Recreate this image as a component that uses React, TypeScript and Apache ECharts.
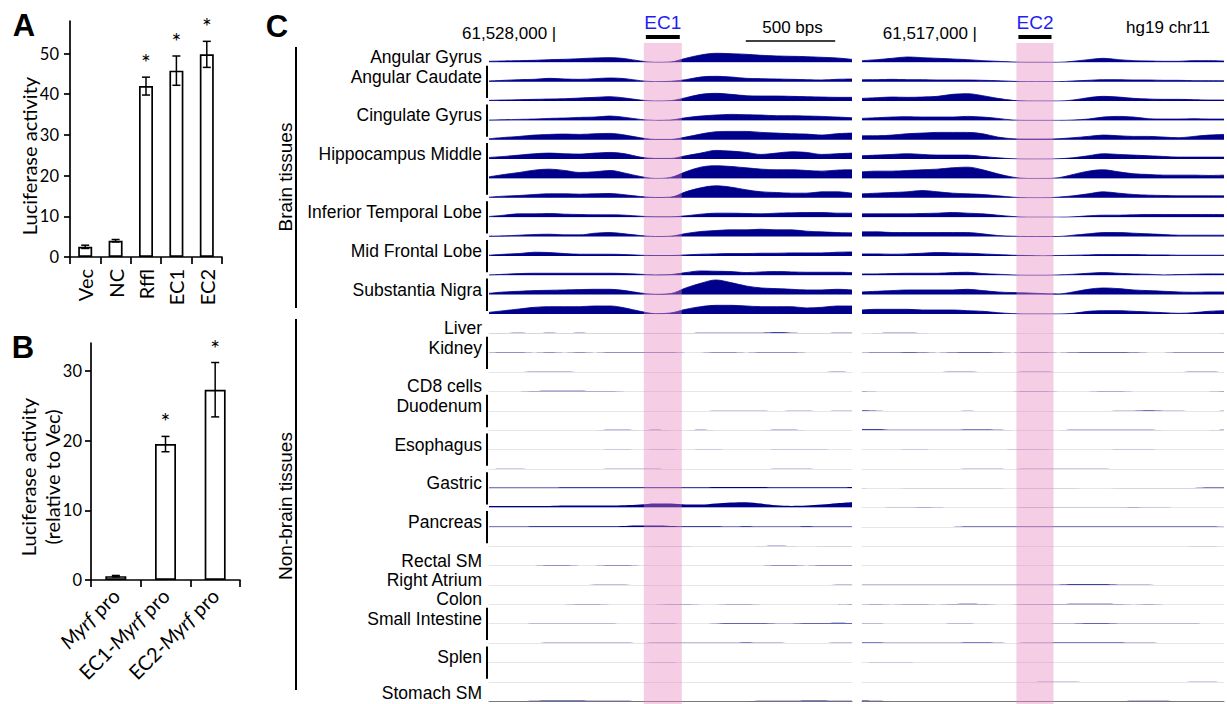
import React, { useEffect, useRef } from 'react';
import * as echarts from 'echarts';

// ---------------- Panel A ----------------
const A_CATS = ['Vec', 'NC', 'Rffl', 'EC1', 'EC2'];
const A_MEAN = [2.5, 4.0, 42.0, 45.8, 49.8];
const A_ERR = [0.4, 0.3, 2.2, 3.6, 3.2];
const A_SIG = [0, 0, 1, 1, 1];
const A_TICKS = [0, 10, 20, 30, 40, 50];
const A_MAX = 58;

// ---------------- Panel B ----------------
const B_CATS = ['Myrf pro', 'EC1-Myrf pro', 'EC2-Myrf pro'];
const B_MEAN = [0.55, 19.5, 27.3];
const B_ERR = [0.1, 1.1, 3.9];
const B_SIG = [0, 1, 1];
const B_TICKS = [0, 10, 20, 30];
const B_MAX = 34;

// ---------------- Panel C ----------------
const WINDOW_BP = 2030;
const POS = [0, 85, 169, 254, 338, 423, 507, 592, 677, 761, 846, 930, 1015, 1100, 1184, 1269, 1353, 1438, 1523, 1607, 1692, 1776, 1861, 1945, 2030];
const EC_NAMES = ['EC1', 'EC2'];
const EC_REGIONS = [[866, 1078], [866, 1074]];
const COORD_LABELS = ['61,528,000 |', '61,517,000 |'];
const COORD_POS = [376, 645];
const SCALE_BAR = [1436, 1936];
const SCALE_LABEL = '500 bps';
const ASSEMBLY = 'hg19 chr11';
const SIGNAL_MAX = 57;

const BRAIN_GROUPS: [string, number][] = [
  ['Angular Gyrus', 1], ['Angular Caudate', 2], ['Cingulate Gyrus', 2], ['Hippocampus Middle', 3],
  ['Inferior Temporal Lobe', 2], ['Mid Frontal Lobe', 2], ['Substantia Nigra', 2],
];
const NONBRAIN_GROUPS: [string, number][] = [
  ['Liver', 1], ['Kidney', 2], ['CD8 cells', 1], ['Duodenum', 2], ['Esophagus', 2], ['Gastric', 2],
  ['Pancreas', 2], ['Rectal SM', 1], ['Right Atrium', 1], ['Colon', 1], ['Small Intestine', 2],
  ['Splen', 2], ['Stomach SM', 1],
];

// brain tracks, left window (EC1)
const BRAIN_L = [
  [3, 4, 5, 6, 8, 9, 11, 13, 14, 11, 4, 0, 1, 12, 22, 27, 26, 24, 21, 19, 18, 17, 15, 13, 9],
  [2, 4, 6, 7, 10, 8, 7, 9, 11, 9, 3, 0, 1, 6, 14, 16, 14, 10, 9, 8, 7, 6, 5, 7, 8],
  [2, 3, 4, 5, 6, 7, 9, 11, 13, 9, 3, 0, 1, 10, 20, 23, 20, 16, 15, 15, 14, 13, 12, 11, 11],
  [1, 2, 3, 4, 6, 7, 9, 10, 13, 9, 3, 0, 1, 8, 13, 16, 18, 17, 16, 14, 14, 13, 12, 10, 8],
  [3, 7, 10, 14, 16, 17, 16, 18, 19, 14, 6, 1, 1, 8, 17, 24, 25, 25, 22, 20, 18, 17, 14, 18, 20],
  [5, 8, 12, 16, 18, 16, 15, 18, 20, 16, 6, 2, 2, 10, 18, 26, 24, 20, 14, 18, 22, 20, 14, 16, 18],
  [5, 12, 18, 25, 28, 24, 18, 20, 24, 16, 6, 0, 3, 20, 34, 38, 36, 32, 28, 26, 26, 24, 22, 25, 26],
  [2, 5, 7, 10, 12, 12, 11, 12, 13, 9, 4, 1, 2, 18, 30, 36, 32, 24, 18, 16, 14, 14, 18, 18, 14],
  [2, 6, 10, 10, 11, 9, 8, 7, 7, 6, 3, 1, 1, 4, 9, 12, 12, 11, 10, 12, 13, 14, 14, 12, 12],
  [1, 2, 4, 6, 7, 5, 5, 10, 12, 8, 3, 0, 1, 9, 15, 18, 20, 20, 22, 20, 20, 16, 14, 12, 11],
  [2, 5, 7, 11, 10, 7, 5, 5, 5, 4, 2, 1, 1, 3, 5, 6, 7, 7, 8, 8, 9, 9, 9, 11, 12],
  [1, 3, 5, 6, 6, 6, 6, 6, 6, 5, 3, 1, 2, 8, 13, 12, 11, 8, 10, 11, 10, 9, 9, 9, 8],
  [4, 8, 10, 12, 13, 14, 15, 16, 16, 12, 5, 1, 3, 20, 34, 44, 36, 26, 20, 18, 16, 14, 14, 16, 14],
  [5, 10, 15, 20, 22, 22, 22, 24, 24, 18, 8, 1, 3, 14, 22, 26, 26, 24, 22, 22, 22, 18, 20, 24, 24],
];

// brain tracks, right window (EC2)
const BRAIN_R = [
  [5, 8, 12, 16, 14, 12, 10, 8, 5, 3, 1, 0, 0, 0, 3, 8, 12, 8, 5, 4, 3, 3, 5, 5, 4],
  [6, 6, 7, 6, 6, 5, 5, 5, 4, 3, 1, 0, 0, 0, 2, 4, 6, 6, 5, 5, 4, 4, 3, 3, 3],
  [8, 10, 12, 11, 12, 14, 20, 22, 16, 8, 2, 0, 0, 0, 3, 10, 14, 12, 8, 6, 5, 5, 4, 3, 3],
  [6, 8, 10, 11, 10, 10, 10, 12, 10, 6, 1, 0, 0, 0, 1, 4, 10, 12, 10, 5, 4, 4, 5, 4, 4],
  [12, 12, 14, 18, 20, 22, 22, 22, 18, 8, 3, 2, 2, 3, 6, 10, 14, 12, 10, 10, 8, 6, 10, 14, 16],
  [10, 12, 14, 16, 14, 12, 12, 12, 8, 4, 1, 0, 0, 1, 4, 10, 16, 14, 12, 10, 8, 6, 6, 6, 6],
  [20, 22, 22, 24, 26, 28, 32, 34, 26, 14, 4, 0, 0, 2, 12, 22, 26, 20, 14, 12, 10, 10, 10, 9, 10],
  [12, 14, 16, 18, 22, 18, 14, 12, 10, 6, 2, 0, 0, 2, 6, 12, 18, 14, 10, 8, 7, 6, 6, 6, 6],
  [10, 10, 10, 10, 11, 12, 14, 12, 10, 6, 2, 0, 0, 0, 1, 4, 6, 6, 7, 8, 8, 8, 8, 8, 8],
  [14, 14, 12, 12, 12, 12, 12, 12, 8, 3, 1, 0, 0, 0, 4, 8, 12, 12, 10, 8, 6, 4, 4, 4, 4],
  [6, 6, 5, 6, 8, 10, 9, 8, 6, 4, 2, 1, 0, 1, 2, 3, 4, 4, 4, 3, 3, 2, 2, 2, 2],
  [4, 4, 5, 6, 6, 6, 8, 9, 5, 3, 1, 0, 0, 1, 3, 6, 8, 6, 4, 3, 1, 2, 3, 4, 4],
  [8, 10, 12, 14, 14, 14, 14, 16, 12, 8, 6, 5, 3, 2, 8, 16, 20, 18, 14, 12, 10, 8, 7, 8, 8],
  [12, 14, 14, 14, 12, 12, 12, 10, 8, 4, 1, 0, 0, 0, 2, 8, 10, 10, 8, 6, 4, 2, 4, 8, 10],
];

// non-brain tracks, left window (EC1)
const NONBRAIN_L = [
  [1, 1, 2, 1, 2, 1, 2, 1, 1, 1, 1, 1, 1, 1, 2, 2, 2, 2, 2, 3, 2, 1, 1, 2, 2],
  [0, 1, 1, 0, 1, 0, 1, 0, 1, 1, 1, 1, 1, 0, 0, 1, 1, 0, 1, 1, 1, 0, 0, 0, 0],
  [0, 0, 0, 1, 1, 1, 0, 0, 0, 0, 0, 0, 0, 0, 0, 0, 0, 0, 0, 0, 0, 0, 0, 1, 0],
  [0, 0, 0, 1, 2, 2, 2, 1, 1, 0, 0, 0, 0, 0, 0, 0, 0, 0, 0, 0, 0, 0, 0, 0, 0],
  [0, 0, 0, 0, 0, 0, 0, 0, 0, 0, 0, 0, 0, 0, 0, 1, 1, 1, 1, 0, 1, 1, 0, 1, 1],
  [0, 0, 0, 0, 0, 0, 0, 0, 1, 1, 0, 1, 0, 0, 1, 0, 0, 0, 0, 1, 1, 0, 0, 0, 0],
  [0, 0, 0, 0, 0, 0, 0, 0, 1, 1, 0, 1, 1, 0, 1, 1, 0, 0, 0, 1, 1, 1, 1, 0, 0],
  [0, 1, 1, 0, 0, 0, 0, 0, 1, 1, 1, 1, 0, 0, 0, 0, 0, 0, 0, 1, 1, 1, 0, 0, 0],
  [2, 2, 2, 2, 2, 3, 3, 3, 3, 3, 3, 3, 3, 3, 3, 4, 4, 4, 4, 3, 3, 3, 3, 3, 4],
  [5, 5, 5, 5, 5, 6, 6, 6, 6, 7, 9, 12, 12, 9, 9, 12, 15, 16, 12, 7, 5, 6, 9, 13, 16],
  [1, 1, 1, 2, 2, 2, 2, 2, 2, 3, 4, 4, 3, 2, 2, 2, 1, 2, 1, 1, 1, 2, 1, 1, 1],
  [0, 0, 0, 0, 0, 0, 0, 0, 0, 0, 0, 1, 1, 1, 0, 0, 0, 0, 1, 2, 1, 0, 1, 1, 1],
  [0, 0, 0, 0, 1, 1, 0, 0, 1, 1, 0, 0, 0, 0, 0, 0, 0, 0, 0, 1, 1, 0, 1, 1, 1],
  [0, 0, 0, 0, 0, 0, 0, 1, 1, 1, 0, 0, 0, 0, 0, 0, 0, 0, 0, 0, 0, 0, 0, 1, 1],
  [0, 0, 0, 0, 0, 0, 1, 1, 0, 0, 0, 0, 1, 1, 0, 0, 1, 1, 0, 0, 0, 0, 0, 0, 1],
  [0, 0, 0, 1, 1, 1, 1, 1, 1, 0, 0, 1, 1, 0, 0, 1, 2, 2, 2, 1, 1, 2, 2, 3, 2],
  [0, 0, 0, 0, 1, 1, 1, 1, 1, 1, 0, 1, 1, 1, 1, 1, 1, 2, 1, 1, 0, 0, 0, 1, 1],
  [0, 0, 0, 0, 0, 0, 0, 0, 0, 0, 0, 1, 1, 0, 0, 0, 0, 0, 0, 0, 0, 0, 0, 0, 0],
  [0, 0, 0, 0, 0, 0, 0, 0, 0, 0, 0, 0, 0, 0, 0, 0, 0, 0, 0, 0, 0, 0, 0, 0, 0],
  [0, 0, 0, 1, 2, 2, 2, 1, 1, 1, 0, 0, 0, 0, 0, 0, 0, 0, 1, 1, 1, 2, 2, 1, 1],
];

// non-brain tracks, right window (EC2)
const NONBRAIN_R = [
  [0, 1, 2, 2, 1, 0, 0, 0, 0, 0, 0, 0, 0, 0, 0, 0, 0, 0, 0, 0, 0, 0, 0, 0, 1],
  [0, 1, 1, 2, 1, 0, 1, 2, 2, 1, 0, 1, 1, 0, 1, 2, 2, 2, 1, 0, 0, 1, 1, 1, 1],
  [0, 0, 0, 0, 0, 0, 1, 1, 0, 0, 0, 1, 1, 0, 0, 0, 0, 0, 0, 0, 0, 0, 1, 1, 0],
  [1, 0, 0, 0, 0, 0, 0, 0, 0, 0, 0, 1, 1, 0, 0, 0, 1, 1, 0, 0, 0, 0, 0, 0, 1],
  [2, 1, 0, 0, 0, 0, 0, 1, 0, 0, 0, 0, 0, 0, 0, 0, 0, 1, 1, 2, 1, 1, 0, 0, 1],
  [3, 3, 1, 1, 1, 1, 1, 2, 2, 1, 0, 0, 0, 0, 1, 1, 1, 1, 1, 1, 0, 0, 0, 0, 1],
  [0, 0, 0, 1, 1, 0, 0, 0, 0, 0, 1, 1, 1, 0, 0, 0, 0, 1, 1, 1, 0, 0, 0, 0, 0],
  [0, 0, 0, 0, 0, 0, 0, 1, 1, 1, 0, 1, 1, 1, 1, 1, 1, 0, 0, 0, 0, 0, 0, 0, 0],
  [1, 0, 0, 1, 1, 1, 1, 1, 1, 1, 0, 1, 1, 1, 1, 0, 0, 1, 1, 1, 1, 1, 1, 2, 2],
  [0, 0, 1, 1, 2, 1, 0, 0, 0, 0, 0, 1, 1, 1, 1, 1, 1, 1, 2, 1, 1, 0, 0, 0, 0],
  [0, 0, 0, 0, 0, 0, 0, 1, 1, 1, 1, 1, 1, 1, 1, 1, 1, 1, 1, 1, 1, 1, 1, 1, 0],
  [0, 0, 0, 0, 0, 0, 0, 0, 0, 0, 0, 0, 0, 0, 0, 0, 0, 0, 0, 0, 0, 0, 1, 1, 0],
  [0, 0, 0, 0, 0, 0, 0, 0, 0, 0, 0, 0, 0, 0, 0, 0, 0, 0, 0, 0, 0, 0, 0, 0, 0],
  [1, 1, 1, 1, 1, 1, 1, 1, 1, 1, 1, 1, 1, 1, 2, 2, 2, 1, 1, 1, 0, 0, 0, 0, 0],
  [0, 1, 0, 1, 1, 0, 1, 2, 1, 0, 0, 1, 1, 1, 2, 2, 2, 1, 0, 1, 0, 0, 0, 0, 0],
  [1, 1, 0, 0, 0, 0, 1, 1, 0, 0, 0, 0, 0, 1, 1, 2, 2, 1, 1, 1, 1, 1, 1, 0, 0],
  [2, 2, 1, 1, 1, 1, 1, 2, 2, 1, 0, 1, 1, 2, 2, 2, 2, 2, 1, 1, 0, 0, 0, 0, 0],
  [0, 1, 1, 1, 0, 0, 0, 0, 0, 0, 0, 0, 0, 0, 0, 0, 0, 0, 0, 0, 0, 0, 0, 0, 0],
  [0, 0, 0, 0, 0, 0, 0, 0, 0, 0, 0, 0, 1, 1, 1, 0, 0, 0, 0, 0, 0, 0, 1, 1, 0],
  [2, 1, 0, 0, 0, 0, 0, 0, 0, 0, 0, 0, 0, 0, 0, 0, 0, 0, 1, 1, 1, 0, 0, 0, 0],
];

// ---------------- styling ----------------
const NAVY = '#00008b';
const AB_FONT = 'Lato, "Open Sans", sans-serif';
const C_FONT = '"Liberation Sans", Arial, sans-serif';
const PINK = 'rgba(230,130,187,0.4)';
const EC_BLUE = '#1f1ff2';

const TRACK_BASE0 = 62.3;
const TRACK_STEP = 19.36;
const TRACK_H = 19;
const PANEL_X = [489, 862];
const PANEL_W = [363, 362];
const OVERLAY_TOP = 43;
const LABEL_RIGHT = 482;

function tstyle(text: string, font: string, size: number, fill: string, align: string, weight = 'normal') {
  return {
    text, fontFamily: font, fontSize: size, fontWeight: weight, fill, textFill: fill,
    textAlign: align, align, textVerticalAlign: 'middle', verticalAlign: 'middle',
  };
}

function txt(x: number, y: number, text: string, font: string, size: number, extra: any = {}) {
  const { align = 'center', weight = 'normal', fill = '#000', rotation = 0 } = extra;
  return { type: 'text', x, y, rotation, silent: true, style: tstyle(text, font, size, fill, align, weight) };
}

function errSeries(idx: number, means: number[], errs: number[], sig: number[]) {
  return {
    type: 'custom', xAxisIndex: idx, yAxisIndex: idx, z: 4, silent: true,
    itemStyle: { color: '#000' },
    data: means.map((m, i) => [i, m, errs[i], sig[i]]),
    renderItem: (params: any, api: any) => {
      const i = api.value(0), m = api.value(1), e = api.value(2), s = api.value(3);
      const hi = api.coord([i, m + e]);
      const lo = api.coord([i, m - e]);
      const st = { stroke: '#000', lineWidth: 1.5 };
      const ch: any[] = [
        { type: 'line', shape: { x1: hi[0], y1: hi[1], x2: lo[0], y2: lo[1] }, style: st },
        { type: 'line', shape: { x1: hi[0] - 4, y1: hi[1], x2: hi[0] + 4, y2: hi[1] }, style: st },
        { type: 'line', shape: { x1: lo[0] - 4, y1: lo[1], x2: lo[0] + 4, y2: lo[1] }, style: st },
      ];
      if (s) {
        ch.push({ type: 'text', x: hi[0], y: hi[1] - 15, style: tstyle('*', AB_FONT, 23, '#000', 'center') });
      }
      return { type: 'group', children: ch };
    },
  };
}

function buildOption() {
  const grids: any[] = [];
  const xAxes: any[] = [];
  const yAxes: any[] = [];
  const series: any[] = [];
  const graphics: any[] = [];
  const axLine = { color: '#000', width: 1.7 };

  // ---- Panel A ----
  grids.push({ left: 70, top: 21, width: 152, height: 236, containLabel: false, outerBoundsMode: 'none' });
  xAxes.push({
    type: 'category', gridIndex: 0, data: A_CATS,
    axisLine: { lineStyle: axLine },
    axisTick: { show: true, interval: 0, length: 7, lineStyle: axLine },
    axisLabel: { interval: 0, rotate: 90, margin: 12, fontFamily: AB_FONT, fontSize: 20, color: '#000' },
    splitLine: { show: false },
  });
  yAxes.push({
    type: 'value', gridIndex: 0, min: 0, max: A_MAX,
    splitLine: { show: false },
    axisLine: { show: true, lineStyle: axLine },
    axisTick: { show: true, length: 6, customValues: A_TICKS, lineStyle: axLine },
    axisLabel: { customValues: A_TICKS, margin: 11, fontFamily: AB_FONT, fontSize: 16.5, color: '#000' },
  });
  series.push({
    type: 'bar', xAxisIndex: 0, yAxisIndex: 0, data: A_MEAN, barWidth: 14, silent: true,
    itemStyle: { color: '#fff', borderColor: '#000', borderWidth: 1.7 },
  });
  series.push(errSeries(0, A_MEAN, A_ERR, A_SIG));

  // ---- Panel B ----
  grids.push({ left: 91, top: 343, width: 149, height: 237, containLabel: false, outerBoundsMode: 'none' });
  xAxes.push({
    type: 'category', gridIndex: 1, data: B_CATS,
    axisLine: { lineStyle: axLine },
    axisTick: { show: true, interval: 0, length: 7, lineStyle: axLine },
    axisLabel: {
      interval: 0, rotate: 45, margin: 12, fontFamily: AB_FONT, fontSize: 20, color: '#000',
      formatter: (v: string) => v.replace('Myrf', '{i|Myrf}'),
      rich: { i: { fontStyle: 'italic', fontFamily: AB_FONT, fontSize: 20, color: '#000' } },
    },
    splitLine: { show: false },
  });
  yAxes.push({
    type: 'value', gridIndex: 1, min: 0, max: B_MAX,
    splitLine: { show: false },
    axisLine: { show: true, lineStyle: axLine },
    axisTick: { show: true, length: 6, customValues: B_TICKS, lineStyle: axLine },
    axisLabel: { customValues: B_TICKS, margin: 9, fontFamily: AB_FONT, fontSize: 16.5, color: '#000' },
  });
  series.push({
    type: 'bar', xAxisIndex: 1, yAxisIndex: 1, data: B_MEAN, barWidth: 21, silent: true,
    itemStyle: { color: '#fff', borderColor: '#000', borderWidth: 1.7 },
  });
  series.push(errSeries(1, B_MEAN, B_ERR, B_SIG));

  // ---- Panel C tracks ----
  const brainCount = BRAIN_L.length;
  const trackCount = brainCount + NONBRAIN_L.length;
  let gi = 2;
  for (let k = 0; k < trackCount; k++) {
    const brain = k < brainCount;
    const base = TRACK_BASE0 + TRACK_STEP * k;
    const vals = brain ? [BRAIN_L[k], BRAIN_R[k]] : [NONBRAIN_L[k - brainCount], NONBRAIN_R[k - brainCount]];
    for (let p = 0; p < 2; p++) {
      grids.push({ left: PANEL_X[p], top: base - TRACK_H, width: PANEL_W[p], height: TRACK_H, containLabel: false, outerBoundsMode: 'none' });
      xAxes.push({
        type: 'value', gridIndex: gi, min: 0, max: WINDOW_BP, show: !brain,
        axisLine: { show: !brain, lineStyle: { color: k === trackCount - 1 ? '#7a7a7a' : '#e6e6e6', width: 1 } },
        axisTick: { show: false }, axisLabel: { show: false }, splitLine: { show: false },
      });
      yAxes.push({ type: 'value', gridIndex: gi, min: 0, max: SIGNAL_MAX, show: false, splitLine: { show: false } });
      series.push({
        type: 'line', xAxisIndex: gi, yAxisIndex: gi, silent: true, z: 2,
        data: POS.map((x, i) => [x, vals[p][i]]),
        showSymbol: false, symbol: 'none', smooth: 0.35,
        lineStyle: { width: brain ? 0.8 : 0, color: NAVY },
        areaStyle: { color: NAVY, opacity: 1 },
      });
      gi++;
    }
  }

  // ---- overlay grids (EC regions, coordinates, scale bar) ----
  for (let p = 0; p < 2; p++) {
    grids.push({ left: PANEL_X[p], top: OVERLAY_TOP, width: PANEL_W[p], height: 704 - OVERLAY_TOP, containLabel: false, outerBoundsMode: 'none' });
    xAxes.push({ type: 'value', gridIndex: gi, min: 0, max: WINDOW_BP, show: false, splitLine: { show: false } });
    yAxes.push({ type: 'value', gridIndex: gi, min: 0, max: 1, show: false, splitLine: { show: false } });
    const name = EC_NAMES[p];
    series.push({
      type: 'custom', xAxisIndex: gi, yAxisIndex: gi, z: 10, silent: true,
      data: [[EC_REGIONS[p][0], 0, EC_REGIONS[p][1]]],
      renderItem: (params: any, api: any) => {
        const a = api.coord([api.value(0), 1]);
        const b = api.coord([api.value(2), 0]);
        return {
          type: 'group', children: [
            { type: 'rect', shape: { x: a[0], y: a[1], width: b[0] - a[0], height: b[1] - a[1] }, style: { fill: PINK } },
            { type: 'rect', shape: { x: a[0] + 2, y: a[1] - 8, width: b[0] - a[0] - 4, height: 4 }, style: { fill: '#000' } },
            { type: 'text', x: (a[0] + b[0]) / 2, y: a[1] - 21, style: tstyle(name, C_FONT, 19, EC_BLUE, 'center') },
          ],
        };
      },
    });
    const coordText = COORD_LABELS[p];
    series.push({
      type: 'custom', xAxisIndex: gi, yAxisIndex: gi, z: 10, silent: true,
      data: [[COORD_POS[p], 1]],
      renderItem: (params: any, api: any) => {
        const a = api.coord([api.value(0), api.value(1)]);
        return { type: 'text', x: a[0], y: a[1] - 10, style: tstyle(coordText, C_FONT, 17, '#000', 'right') };
      },
    });
    if (p === 0) {
      series.push({
        type: 'custom', xAxisIndex: gi, yAxisIndex: gi, z: 10, silent: true,
        data: [[SCALE_BAR[0], 1, SCALE_BAR[1]]],
        renderItem: (params: any, api: any) => {
          const a = api.coord([api.value(0), 1]);
          const b = api.coord([api.value(2), 1]);
          return {
            type: 'group', children: [
              { type: 'line', shape: { x1: a[0], y1: a[1] - 2, x2: b[0], y2: b[1] - 2 }, style: { stroke: '#000', lineWidth: 1.6 } },
              { type: 'text', x: (a[0] + b[0]) / 2 + 2, y: a[1] - 16, style: tstyle(SCALE_LABEL, C_FONT, 17, '#000', 'center') },
            ],
          };
        },
      });
    }
    gi++;
  }

  // ---- graphic texts ----
  graphics.push(txt(24, 25, 'A', C_FONT, 31, { weight: 'bold' }));
  graphics.push(txt(23, 347, 'B', C_FONT, 31, { weight: 'bold' }));
  graphics.push(txt(277, 26, 'C', C_FONT, 31, { weight: 'bold' }));
  graphics.push(txt(29, 156, 'Luciferase activity', AB_FONT, 20, { rotation: Math.PI / 2 }));
  graphics.push(txt(28, 477, 'Luciferase activity', AB_FONT, 20, { rotation: Math.PI / 2 }));
  graphics.push(txt(52, 477, '(relative to Vec)', AB_FONT, 20, { rotation: Math.PI / 2 }));
  graphics.push(txt(1168, 27, ASSEMBLY, C_FONT, 17));

  const addGroups = (groups: [string, number][], startIdx: number) => {
    let k = startIdx;
    for (const [name, n] of groups) {
      const b0 = TRACK_BASE0 + TRACK_STEP * k;
      const b1 = TRACK_BASE0 + TRACK_STEP * (k + n - 1);
      graphics.push(txt(LABEL_RIGHT, Math.min(b0 - 5, 693), name, C_FONT, 17.5, { align: 'right' }));
      if (n > 1) {
        graphics.push({ type: 'rect', silent: true, shape: { x: 486, y: b0 - 16, width: 2, height: (b1 - 3) - (b0 - 16) }, style: { fill: '#000' } });
      }
      k += n;
    }
  };
  addGroups(BRAIN_GROUPS, 0);
  addGroups(NONBRAIN_GROUPS, brainCount);

  graphics.push({ type: 'rect', silent: true, shape: { x: 295, y: 47, width: 2, height: 261 }, style: { fill: '#000' } });
  graphics.push({ type: 'rect', silent: true, shape: { x: 295, y: 319, width: 2, height: 371 }, style: { fill: '#000' } });
  graphics.push(txt(285, 177, 'Brain tissues', C_FONT, 19, { rotation: Math.PI / 2 }));
  graphics.push(txt(285, 506, 'Non-brain tissues', C_FONT, 19, { rotation: Math.PI / 2 }));

  return {
    animation: false,
    backgroundColor: '#ffffff',
    grid: grids,
    xAxis: xAxes,
    yAxis: yAxes,
    series,
    graphic: { elements: graphics },
  };
}

export default function App() {
  const ref = useRef<HTMLDivElement>(null);
  useEffect(() => {
    document.body.style.margin = '0';
    const chart = echarts.init(ref.current as HTMLDivElement, null, { renderer: 'svg' });
    chart.setOption(buildOption() as any);
    return () => chart.dispose();
  }, []);
  return <div ref={ref} style={{ width: 1227, height: 704 }} />;
}
